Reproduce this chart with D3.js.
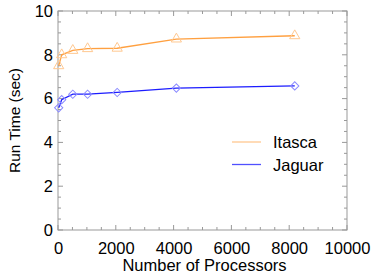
<!DOCTYPE html>
<html>
<head>
<meta charset="utf-8">
<script src="https://cdn.jsdelivr.net/npm/d3@7"></script>
<style>
  body { margin: 0; background: #fff; }
  text { font-family: "Liberation Sans", Arial, sans-serif; fill: #000; }
</style>
</head>
<body>
<div id="chart"></div>
<script>
// data
const procs = [24, 128, 512, 1024, 2048, 4096, 8192];
const itasca = [7.5, 8.0, 8.2, 8.28, 8.3, 8.72, 8.87];
const jaguar = [5.58, 5.95, 6.2, 6.2, 6.28, 6.48, 6.58];
const xTicks = [0, 2000, 4000, 6000, 8000, 10000];
const yTicks = [0, 2, 4, 6, 8, 10];

const width = 374, height = 275;
const margin = { top: 11, right: 27, bottom: 45, left: 58 };

const svg = d3.select('#chart').append('svg')
  .attr('width', width).attr('height', height);

const x = d3.scaleLinear().domain([0, 10000]).range([margin.left, width - margin.right]);
const y = d3.scaleLinear().domain([0, 10]).range([height - margin.bottom, margin.top]);

const axisColor = '#999';

// box
svg.append('rect')
  .attr('x', x(0)).attr('y', y(10))
  .attr('width', x(10000) - x(0)).attr('height', y(0) - y(10))
  .attr('fill', 'none').attr('stroke', axisColor).attr('stroke-width', 1);

// minor + major ticks pointing inward on all four sides
const xMinor = d3.range(0, 10001, 500);
const yMinor = d3.range(0, 10.01, 0.5);
function tickLen(v, step) { return Math.abs(v % step) < 1e-6 ? 5 : 3; }

const tg = svg.append('g').attr('stroke', axisColor).attr('stroke-width', 1);
xMinor.forEach(v => {
  const l = tickLen(v, 2000);
  tg.append('line').attr('x1', x(v)).attr('x2', x(v)).attr('y1', y(0)).attr('y2', y(0) - l);
  tg.append('line').attr('x1', x(v)).attr('x2', x(v)).attr('y1', y(10)).attr('y2', y(10) + l);
});
yMinor.forEach(v => {
  const l = tickLen(v, 2);
  tg.append('line').attr('y1', y(v)).attr('y2', y(v)).attr('x1', x(0)).attr('x2', x(0) + l);
  tg.append('line').attr('y1', y(v)).attr('y2', y(v)).attr('x1', x(10000)).attr('x2', x(10000) - l);
});

// tick labels through d3 axes
const xAxis = d3.axisBottom(x).tickValues(xTicks).tickSize(0).tickPadding(12).tickFormat(d3.format('d'));
const gx = svg.append('g').attr('transform', `translate(0,${y(0)})`).call(xAxis);
gx.select('.domain').remove();
gx.selectAll('text').style('font-size', '16.5px').attr('fill', '#000');

const yAxis = d3.axisLeft(y).tickValues(yTicks).tickSize(0).tickPadding(5);
const gy = svg.append('g').attr('transform', `translate(${x(0)},0)`).call(yAxis);
gy.select('.domain').remove();
gy.selectAll('text').style('font-size', '16.5px').attr('fill', '#000');

// axis titles
svg.append('text')
  .attr('x', (x(0) + x(10000)) / 2 + 2).attr('y', 271)
  .attr('text-anchor', 'middle').style('font-size', '16.5px')
  .text('Number of Processors');
svg.append('text')
  .attr('transform', `translate(20,${(y(0) + y(10)) / 2}) rotate(-90)`)
  .attr('text-anchor', 'middle').style('font-size', '15.5px')
  .text('Run Time  (sec)');

const series = [
  { name: 'Itasca', vals: itasca, line: '#ffa040', mark: '#ffc890', sym: d3.symbolTriangle, size: 45, rot: 0 },
  { name: 'Jaguar', vals: jaguar, line: '#1c1cff', mark: '#8c8cff', sym: d3.symbolSquare, size: 34, rot: 45 }
];

const line = d3.line().x((d, i) => x(procs[i])).y(d => y(d));

series.forEach(s => {
  svg.append('path').datum(s.vals)
    .attr('d', line).attr('fill', 'none')
    .attr('stroke', s.line).attr('stroke-width', 1.3);
  svg.selectAll(null).data(s.vals).enter().append('path')
    .attr('d', d3.symbol().type(s.sym).size(s.size))
    .attr('transform', (d, i) => `translate(${x(procs[i])},${y(d)}) rotate(${s.rot})`)
    .attr('fill', 'none').attr('stroke', s.mark).attr('stroke-width', 1);
});

// legend
const legend = svg.append('g');
series.forEach((s, i) => {
  const ly = 142 + i * 22.5;
  legend.append('line').attr('x1', 232).attr('x2', 261).attr('y1', ly).attr('y2', ly)
    .attr('stroke', i === 0 ? s.mark : '#5050ff').attr('stroke-width', 1.3);
  legend.append('text').attr('x', 273).attr('y', ly + 6)
    .style('font-size', '16.5px').text(s.name);
});
</script>
</body>
</html>
